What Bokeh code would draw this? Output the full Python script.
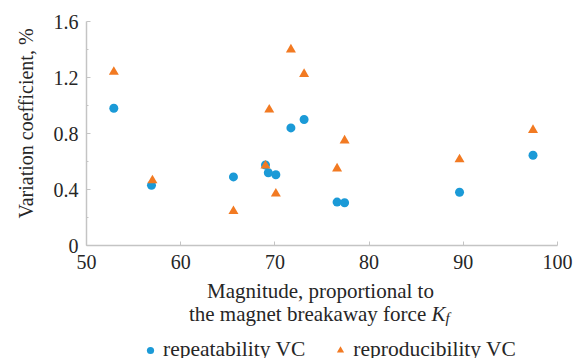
from bokeh.plotting import figure
from bokeh.layouts import column
from bokeh.models import FixedTicker, Legend, LegendItem, Range1d
from bokeh.core.properties import value
from bokeh.embed import file_html
from bokeh.resources import INLINE

# ---- data ----
rep_x = [52.9, 56.9, 65.6, 69.0, 69.3, 70.1, 71.7, 73.1, 76.6, 77.4, 89.6, 97.4]
rep_y = [0.98, 0.43, 0.49, 0.575, 0.52, 0.505, 0.84, 0.90, 0.31, 0.305, 0.38, 0.645]
repro_x = [52.9, 57.0, 65.6, 69.0, 69.4, 70.1, 71.7, 73.1, 76.6, 77.4, 89.6, 97.4]
repro_y = [1.24, 0.465, 0.245, 0.57, 0.97, 0.37, 1.40, 1.225, 0.55, 0.75, 0.615, 0.825]

x_ticks = [50, 60, 70, 80, 90, 100]
y_ticks = [0, 0.4, 0.8, 1.2, 1.6]
y_tick_labels = ["0", "0.4", "0.8", "1.2", "1.6"]
y_minor = [0.2, 0.6, 1.0, 1.4]

series_names = ["repeatability VC", "reproducibility VC"]
y_title = "Variation coefficient, %"
x_title_1 = "Magnitude, proportional to"
x_title_2 = "the magnet breakaway force "
x_title_sym = "K"
x_title_sub = "f"

BLUE = "#1b9ad7"
ORANGE = "#f27a22"
TXT = "#262626"
AX = "#c4c4c4"
FONT_Q = "'Liberation Serif'"   # works for tick labels / legend
FONT_U = "Liberation Serif"     # used for axis title and text glyphs

# ---------------- main chart ----------------
p = figure(width=575, height=280, output_backend="svg", toolbar_location=None,
           x_range=Range1d(50, 100), y_range=Range1d(0, 1.6),
           min_border_left=86, min_border_right=18, min_border_top=21,
           min_border_bottom=35)
p.outline_line_color = None
p.xgrid.visible = False
p.ygrid.visible = False

r1 = p.scatter(rep_x, rep_y, marker="circle", size=9, fill_color=BLUE,
               line_color=None)
r2 = p.scatter(repro_x, repro_y, marker="triangle", size=10, fill_color=ORANGE,
               line_color=None)

xa = p.xaxis[0]
xa.ticker = FixedTicker(ticks=x_ticks)
xa.axis_line_color = AX
xa.axis_line_width = 1.5
xa.major_tick_line_color = AX
xa.major_tick_in = 4
xa.major_tick_out = 0
xa.minor_tick_line_color = None
xa.major_label_text_font = FONT_Q
xa.major_label_text_font_size = "20px"
xa.major_label_text_color = TXT
xa.major_label_standoff = 9

ya = p.yaxis[0]
ya.ticker = FixedTicker(ticks=y_ticks, minor_ticks=y_minor)
ya.major_label_overrides = {v: s for v, s in zip(y_ticks, y_tick_labels)}
ya.axis_line_color = AX
ya.axis_line_width = 1.5
ya.major_tick_line_color = AX
ya.major_tick_in = 4
ya.major_tick_out = 0
ya.minor_tick_line_color = AX
ya.minor_tick_in = 2
ya.minor_tick_out = 0
ya.major_label_text_font = FONT_Q
ya.major_label_text_font_size = "20px"
ya.major_label_text_color = TXT
ya.major_label_standoff = 8
ya.axis_label = "\u00a0\u00a0\u00a0\u00a0" + y_title
ya.axis_label_text_font = FONT_U
ya.axis_label_text_font_size = "20px"
ya.axis_label_text_font_style = "normal"
ya.axis_label_text_color = TXT
ya.axis_label_standoff = 14

# ---------------- x title + legend strip (x in page pixels) ----------------
H2 = 78
p2 = figure(width=575, height=H2, output_backend="svg", toolbar_location=None,
            x_range=Range1d(86, 557), y_range=Range1d(H2, 0),
            min_border_left=86, min_border_right=18, min_border_top=0,
            min_border_bottom=0, x_axis_location=None, y_axis_location=None)
p2.outline_line_color = None
p2.xgrid.visible = False
p2.ygrid.visible = False
# off-screen range so the legend's series renderers are not visible in the strip
p2.extra_y_ranges = {"off": Range1d(100, 200)}

tkw = dict(text_font=value(FONT_U), text_color=TXT, text_baseline="alphabetic")
p2.text(x=[320], y=[10], text=[x_title_1], text_align="center",
        text_font_size=value("21px"), **tkw)
p2.text(x=[431], y=[33], text=[x_title_2], text_align="right",
        text_font_size=value("21px"), **tkw)
p2.text(x=[431], y=[33], text=[x_title_sym], text_align="left",
        text_font_size=value("21px"), text_font_style="italic", **tkw)
p2.text(x=[445], y=[37], text=[x_title_sub], text_align="left",
        text_font_size=value("15px"), text_font_style="italic", **tkw)

d1 = p2.scatter(rep_x, rep_y, marker="circle", size=9, fill_color=BLUE,
                line_color=None, y_range_name="off")
d2 = p2.scatter(repro_x, repro_y, marker="triangle", size=10, fill_color=ORANGE,
                line_color=None, y_range_name="off")
legend = Legend(items=[LegendItem(label=series_names[0], renderers=[d1]),
                       LegendItem(label=series_names[1], renderers=[d2])],
                orientation="horizontal", location=(55, -4),
                glyph_width=18, glyph_height=18, label_standoff=4, spacing=26,
                padding=0, margin=0, border_line_color=None,
                background_fill_alpha=0,
                label_text_font=FONT_Q, label_text_font_size="21.5px",
                label_text_color=TXT, label_height=18)
p2.add_layout(legend, "center")

layout = column(p, p2, spacing=0)
open("out.html", "w").write(file_html(layout, INLINE))
